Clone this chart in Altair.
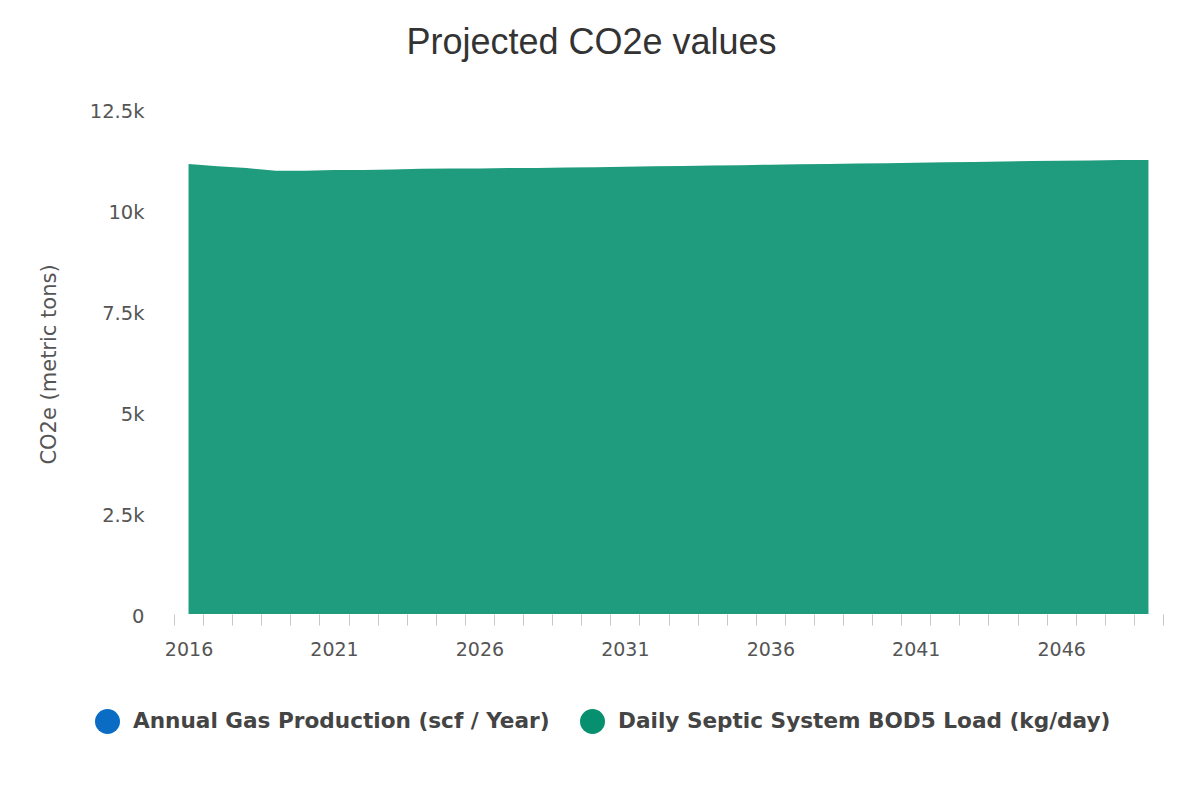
import altair as alt
import pandas as pd

# ---- data ----
years = list(range(2016, 2050))
bod5_load = [
    11140, 11080, 11040, 10970, 10970, 10990, 10990, 11000, 11020, 11030,
    11030, 11040, 11040, 11050, 11060, 11070, 11080, 11090, 11100, 11110,
    11120, 11130, 11140, 11150, 11160, 11170, 11180, 11190, 11200, 11210,
    11220, 11225, 11235, 11240,
]
series_names = [
    "Annual Gas Production (scf / Year)",
    "Daily Septic System BOD5 Load (kg/day)",
]
series_colors = ["#0b6cc4", "#07906f"]
x_label_years = [2016, 2021, 2026, 2031, 2036, 2041, 2046]
y_ticks = [0, 2500, 5000, 7500, 10000, 12500]

df = pd.DataFrame({
    "year": years,
    "value": bod5_load,
    "series": [series_names[1]] * len(years),
})

# minor ticks sit between the yearly categories
tick_positions = [y - 0.5 for y in years] + [years[-1] + 0.5]
x_values = sorted(x_label_years + tick_positions)

x_axis = alt.Axis(
    values=x_values,
    tickCount=len(x_values) + 20,
    tickMinStep=0.5,
    title=None,
    domain=False,
    grid=False,
    labelExpr="datum.value % 1 === 0 ? format(datum.value, 'd') : ''",
    labelOverlap=False,
    labelFlush=False,
    tickOpacity={"condition": {"test": "datum.value % 1 === 0", "value": 0}, "value": 1},
    tickColor="#c8c8c8",
    tickSize=11,
    tickWidth=1,
    labelPadding=15,
    labelFont="DejaVu Sans",
    labelFontSize=19,
    labelColor="#555555",
)

y_axis = alt.Axis(
    values=y_ticks,
    labelExpr="datum.value === 0 ? '0' : format(datum.value / 1000, '~g') + 'k'",
    title="CO2e (metric tons)",
    titleFont="DejaVu Sans",
    titleFontSize=21,
    titleFontWeight="normal",
    titleColor="#555555",
    titleAngle=-90,
    titleAlign="center",
    titleBaseline="middle",
    titleX=-125,
    titleY=255,
    grid=False,
    domain=False,
    ticks=False,
    labelPadding=30,
    labelFont="DejaVu Sans",
    labelFontSize=19.5,
    labelColor="#555555",
    labelBaseline="middle",
    labelOffset=2,
)

legend = alt.Legend(
    orient="none",
    legendX=-79,
    legendY=600,
    direction="horizontal",
    title=None,
    symbolType="circle",
    symbolSize=625,
    symbolStrokeWidth=0,
    symbolOpacity=1,
    labelFont="DejaVu Sans",
    labelFontWeight="bold",
    labelFontSize=21.6,
    labelColor="#444444",
    labelOffset=13,
    columnPadding=30,
    labelLimit=1000,
    padding=0,
)

chart = (
    alt.Chart(df)
    .mark_area(fillOpacity=0.9)
    .encode(
        x=alt.X(
            "year:Q",
            scale=alt.Scale(domain=[years[0] - 0.5, years[-1] + 0.5], nice=False, zero=False),
            axis=x_axis,
        ),
        y=alt.Y(
            "value:Q",
            scale=alt.Scale(domain=[0, 12500], nice=False),
            axis=y_axis,
            stack=None,
        ),
        color=alt.Color(
            "series:N",
            scale=alt.Scale(domain=series_names, range=series_colors),
            legend=legend,
        ),
    )
    .properties(
        width=989,
        height=505,
        padding={"left": 166, "top": 101, "right": 5, "bottom": 160},
        autosize=alt.AutoSizeParams(type="none"),
        background="white",
        title=alt.TitleParams(
            "Projected CO2e values",
            font="Liberation Sans",
            fontSize=36,
            fontWeight="normal",
            color="#333333",
            anchor="middle",
            frame="group",
            dx=-77,
            offset=39,
        ),
    )
    .configure_view(stroke=None)
)

chart.save("out.html", embed_options={"renderer": "svg", "actions": False})
